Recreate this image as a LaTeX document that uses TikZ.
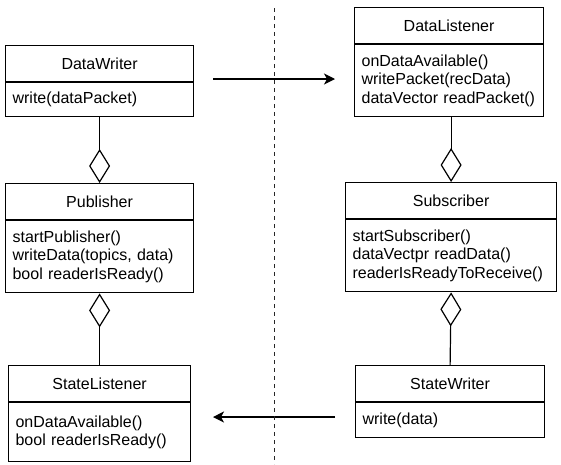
\documentclass[tikz,border=0pt]{standalone}
\usepackage{fontspec}
\setmainfont{Liberation Sans}
\usetikzlibrary{positioning}
\usetikzlibrary{arrows.meta}
\usetikzlibrary{shapes}
\newcommand{\classfont}{\fontsize{16pt}{18.3pt}\selectfont\hyphenpenalty=10000\relax\exhyphenpenalty=10000\relax}
\tikzset{
        classbox/.style={draw=black, rectangle, line width=1.2pt, inner sep=0pt, font=\classfont},
        % Class name (upper part)
        class_name/.style={classbox, align=center, minimum width=#1, minimum height=36pt},
        % Class methods (lower part)
        class_body/.style 2 args={classbox, align=left, inner xsep=7pt, text width=#1, minimum height=#2},
        % Aggregation (open diamond at the whole)
        aggr/.style={line width=1.2pt, -{Diamond[open, length=34pt, width=21pt, line width=1.2pt]}},
        % Message between the two sides
        msg/.style={line width=1.2pt, -{Stealth[length=11pt, width=11pt, inset=3pt]}},
        % Process boundary
        boundary/.style={draw=black!85, line width=1.6pt, dash pattern=on 4pt off 4pt}
}
\begin{document}
\begin{tikzpicture}[x=1pt, y=-1pt]
            \useasboundingbox (0,0) rectangle (561,464);
            % left side: writer
            \node[class_name=188pt, anchor=north west] (dw_name) at (5,45) {DataWriter};
            \node[class_body={174pt}{34pt}, below=0pt of dw_name] (dw_body) {write(dataPacket)};
            \node[class_name=188pt, anchor=north west] (pub_name) at (5,183) {Publisher};
            \node[class_body={174pt}{72pt}, below=0pt of pub_name] (pub_body)
                {startPublisher()\\writeData(topics, data)\\bool readerIsReady()};
            \node[class_name=182pt, anchor=north west] (sl_name) at (8,365) {StateListener};
            \node[class_body={168pt}{59pt}, below=0pt of sl_name] (sl_body)
                {onDataAvailable()\\bool readerIsReady()};
            % right side: reader
            \node[class_name=189pt, anchor=north west] (dl_name) at (354,7) {DataListener};
            \node[class_body={175pt}{72pt}, below=0pt of dl_name] (dl_body)
                {onDataAvailable()\\writePacket(recData)\\dataVector readPacket()};
            \node[class_name=211pt, anchor=north west] (sub_name) at (345,182) {Subscriber};
            \node[class_body={197pt}{72pt}, below=0pt of sub_name] (sub_body)
                {startSubscriber()\\dataVectpr readData()\\readerIsReadyToReceive()};
            \node[class_name=189pt, anchor=north west] (sw_name) at (355,365) {StateWriter};
            \node[class_body={175pt}{35pt}, below=0pt of sw_name] (sw_body) {write(data)};

            \draw[aggr] (dw_body.south) -- (pub_name.north);
            \draw[aggr] (sl_name.north) -- (pub_body.south);
            \draw[aggr] (sub_name.north |- dl_body.south) -- (sub_name.north);
            \draw[aggr] (sw_name.north) -- (sub_body.south);

            \coordinate (data_from) at (213,79);
            \coordinate (data_to) at (335,79);
            \coordinate (state_from) at (335,417);
            \coordinate (state_to) at (213,417);
            \draw[msg] (data_from) -- (data_to);
            \draw[msg] (state_from) -- (state_to);

            \coordinate (bound_top) at (274.5,8);
            \coordinate (bound_bot) at (274.5,464);
            \draw[boundary] (bound_top) -- (bound_bot);
        \end{tikzpicture}
\end{document}
